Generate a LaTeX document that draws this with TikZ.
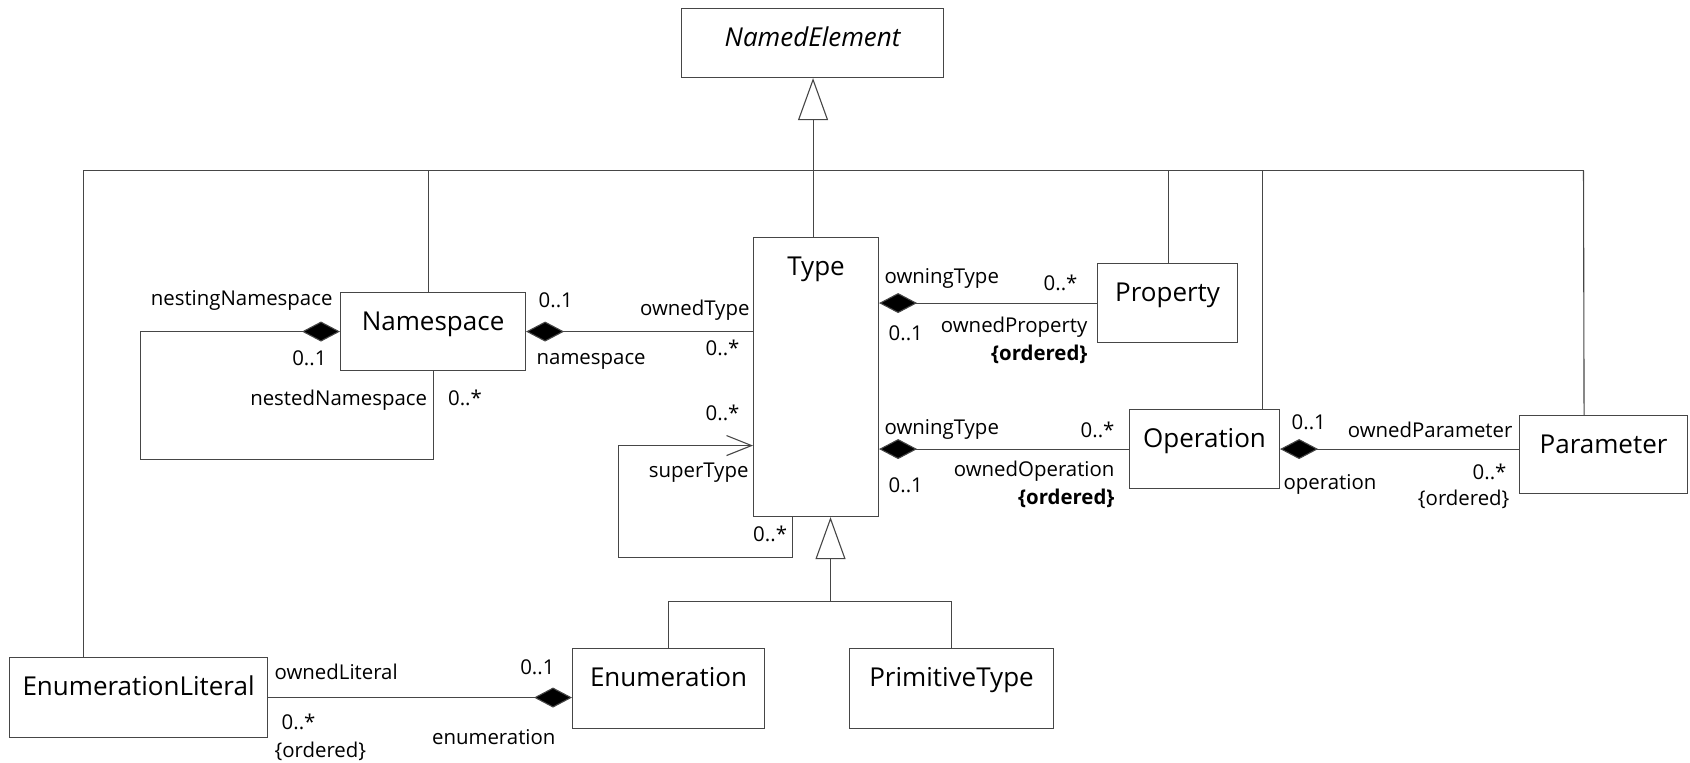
\documentclass[tikz,border=0pt]{standalone}
\usepackage{fontspec}
\setmainfont{Open Sans}
\usepackage{xcolor}
\usetikzlibrary{arrows.meta}

\definecolor{umlgray}{RGB}{70,70,70}
\newcommand{\clsfont}{\fontsize{13}{15}\selectfont}
\newcommand{\lblfont}{\fontsize{10.2}{12}\selectfont}

\begin{document}
\begin{tikzpicture}[x=0.5pt, y=-0.5pt,
        cls/.style = {draw=umlgray, line width=0.55pt, rectangle, anchor=north west, inner sep=0pt, text height=19pt, font=\clsfont},
        wire/.style = {draw=umlgray, line width=0.55pt},
        comp/.style = {wire, {Diamond[length=19pt, width=10pt, fill=black]}-},
        gen/.style = {wire, -{Triangle[length=21pt, width=15pt, fill=white]}},
        lbl/.style = {font=\lblfont, inner sep=0pt, text height=7.3pt, text depth=0pt}]
        \useasboundingbox (0,0) rectangle (1690,762);

        % classes
        \node[cls, minimum width=131pt, text depth=15.5pt] (named) at (681,8) {\itshape NamedElement};
        \node[cls, minimum width=92.5pt, text depth=20pt] (namespace) at (340,292) {Namespace};
        \node[cls, minimum width=62.5pt, text depth=120.5pt] (type) at (753,237) {Type};
        \node[cls, minimum width=70pt, text depth=20.5pt] (property) at (1097,263) {Property};
        \node[cls, minimum width=75pt, text depth=20.5pt] (operation) at (1129,409) {Operation};
        \node[cls, minimum width=84pt, text depth=20pt] (parameter) at (1519,415) {Parameter};
        \node[cls, minimum width=129pt, text depth=21pt] (literal) at (9,657) {EnumerationLiteral};
        \node[cls, minimum width=96pt, text depth=21pt] (enumeration) at (572,648) {Enumeration};
        \node[cls, minimum width=102pt, text depth=21pt] (primitive) at (849,648) {PrimitiveType};

        % generalisation to NamedElement
        \coordinate (busright) at (1583.5,170.5);
        \draw[gen] ([xshift=0.25pt]type.north -| named.south) -- ([xshift=0.25pt]named.south);
        \draw[wire] ([xshift=-27.75pt]literal.north) |- (busright);
        \draw[wire] ([xshift=-2.5pt]namespace.north) -- ([xshift=-2.5pt]namespace.north |- busright);
        \draw[wire] ([xshift=0.25pt]property.north) -- ([xshift=0.25pt]property.north |- busright);
        \draw[wire] ([xshift=28.75pt]operation.north) -- ([xshift=28.75pt]operation.north |- busright);
        \draw[wire] ([xshift=-9.75pt]parameter.north) -- (busright);

        % generalisation to Type
        \coordinate (genjoin) at (830.5,601.5);
        \draw[gen] (enumeration.north) |- (genjoin) -- (type.south -| genjoin);
        \draw[wire] (primitive.north) |- (genjoin);

        % Namespace -- Type
        \draw[comp] (namespace.east) -- node[lbl, pos=0, anchor=west, xshift=6pt, yshift=15.5pt] (nsmult) {0..1}
            node[lbl, pos=0, anchor=west, xshift=5pt, yshift=-13pt] (nsrole) {namespace}
            node[lbl, pos=1, anchor=east, xshift=-1.5pt, yshift=11.5pt] (otrole) {ownedType}
            node[lbl, pos=1, anchor=east, xshift=-6.5pt, yshift=-8.5pt] (otmult) {0..*} (namespace.east -| type.west);

        % Namespace nesting
        \coordinate (nestloop) at (140.5,459.5);
        \draw[comp] (namespace.west) -| node[lbl, pos=0, anchor=east, xshift=-3.5pt, yshift=16.5pt] (nestrole) {nestingNamespace}
            node[lbl, pos=0, anchor=east, xshift=-6.5pt, yshift=-13.5pt] (nestmult) {0..1} (nestloop)
            -| node[lbl, pos=1, anchor=east, xshift=-2.75pt, yshift=-13.5pt] (nestedrole) {nestedNamespace}
            node[lbl, pos=1, anchor=west, xshift=7.25pt, yshift=-13.5pt] (nestedmult) {0..*} (namespace.south);

        % superType
        \coordinate (superloop) at (618.5,557.5);
        \draw[wire, -{Straight Barb[length=12.5pt, width=10pt]}] ([xshift=-11.75pt]type.south)
            |- node[lbl, pos=0, anchor=east, xshift=-2.5pt, yshift=-8.5pt] (submult) {0..*} (superloop)
            |- node[lbl, pos=1, anchor=east, xshift=-6.5pt, yshift=16pt] (supmult) {0..*}
            node[lbl, pos=1, anchor=east, xshift=-2pt, yshift=-12.5pt] (suprole) {superType} ([yshift=-34.25pt]type.west);

        % Type -- Property
        \draw[comp] (type.east |- property.west) -- node[lbl, pos=0, anchor=west, xshift=2.5pt, yshift=13.25pt] (ptrole) {owningType}
            node[lbl, pos=0, anchor=west, xshift=4.5pt, yshift=-15.25pt] (ptmult) {0..1}
            node[lbl, pos=1, anchor=east, xshift=-9.5pt, yshift=9.75pt] (ppmult) {0..*}
            node[lbl, pos=1, anchor=east, xshift=-4.5pt, yshift=-11.25pt] (pprole) {ownedProperty}
            node[lbl, pos=1, anchor=east, xshift=-4.5pt, yshift=-25.25pt] (ppord) {\bfseries\{ordered\}} (property.west);

        % Type -- Operation
        \draw[comp] (type.east |- operation.west) -- node[lbl, pos=0, anchor=west, xshift=2.5pt, yshift=10.75pt] (otyrole) {owningType}
            node[lbl, pos=0, anchor=west, xshift=4.5pt, yshift=-18.25pt] (otymult) {0..1}
            node[lbl, pos=1, anchor=east, xshift=-7pt, yshift=9.25pt] (opmult) {0..*}
            node[lbl, pos=1, anchor=east, xshift=-7pt, yshift=-10.25pt] (oprole) {ownedOperation}
            node[lbl, pos=1, anchor=east, xshift=-7pt, yshift=-24.25pt] (opord) {\bfseries\{ordered\}} (operation.west);

        % Operation -- Parameter
        \draw[comp] (operation.east) -- node[lbl, pos=0, anchor=west, xshift=5.5pt, yshift=13.25pt] (opamult) {0..1}
            node[lbl, pos=0, anchor=west, xshift=1.5pt, yshift=-16.75pt] (oparole) {operation}
            node[lbl, pos=1, anchor=east, xshift=-3pt, yshift=9.25pt] (parole) {ownedParameter}
            node[lbl, pos=1, anchor=east, xshift=-6pt, yshift=-11.75pt] (pamult) {0..*}
            node[lbl, pos=1, anchor=east, xshift=-4.5pt, yshift=-24.75pt] (paord) {\{ordered\}} (operation.east -| parameter.west);

        % Enumeration -- EnumerationLiteral
        \draw[comp] (enumeration.west |- literal.east) -- node[lbl, pos=0, anchor=east, xshift=-8.5pt, yshift=15pt] (enmult) {0..1}
            node[lbl, pos=0, anchor=east, xshift=-8pt, yshift=-20pt] (enrole) {enumeration}
            node[lbl, pos=1, anchor=west, xshift=3pt, yshift=12.5pt] (olrole) {ownedLiteral}
            node[lbl, pos=1, anchor=west, xshift=6.5pt, yshift=-12.5pt] (olmult) {0..*}
            node[lbl, pos=1, anchor=west, xshift=3pt, yshift=-26.5pt] (olord) {\{ordered\}} (literal.east);
    \end{tikzpicture}
\end{document}
